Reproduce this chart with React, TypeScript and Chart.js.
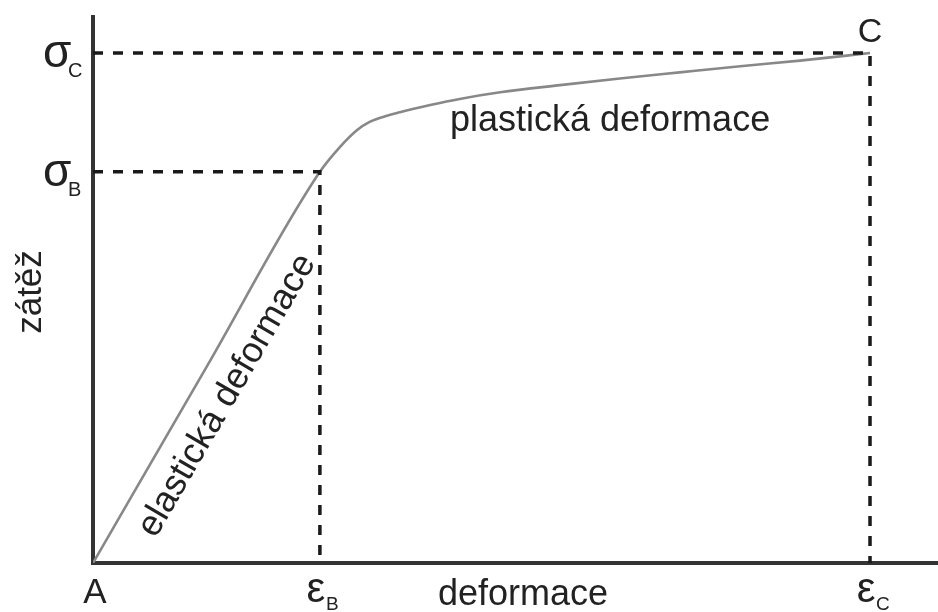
import React, { useEffect, useRef } from "react";
import { Chart, registerables } from "chart.js";

Chart.register(...registerables);

// Stress–strain curve (deformace → zátěž)
const STRAIN = [0, 1.46, 2.92, 3.18, 3.40, 3.56, 3.76, 3.95, 4.34, 4.72, 5.24, 6.01, 6.78, 7.55, 8.33, 9.10, 10];
const LOAD = [0, 3.84, 7.67, 8.16, 8.49, 8.65, 8.76, 8.84, 8.98, 9.10, 9.23, 9.37, 9.50, 9.62, 9.74, 9.85, 10];

// Characteristic points
const EPS_B = 2.92;
const EPS_C = 10;
const SIG_B = 7.67;
const SIG_C = 10;

// Tick labels
const X_TICKS = [0, EPS_B, EPS_C];
const X_TICK_MAIN = ["A", "ε", "ε"];
const X_TICK_SUB = ["", "B", "C"];
const Y_TICKS = [SIG_B, SIG_C];
const Y_TICK_MAIN = ["σ", "σ"];
const Y_TICK_SUB = ["B", "C"];

const X_TITLE = "deformace";
const Y_TITLE = "zátěž";
const POINT_C_LABEL = "C";
const ELASTIC_LABEL = "elastická deformace";
const PLASTIC_LABEL = "plastická deformace";

const X_MAX = 10.875;
const Y_MAX = 10.706;

const FONT = '"Liberation Sans", Arial, sans-serif';
const TEXT_COLOR = "#222";

const labelsPlugin = {
  id: "labelsPlugin",
  afterDraw(chart: any) {
    const { ctx, chartArea, scales } = chart;
    const xs = scales.x;
    const ys = scales.y;
    ctx.save();
    ctx.fillStyle = TEXT_COLOR;
    ctx.textBaseline = "alphabetic";

    // y tick labels (σ with subscripts)
    Y_TICKS.forEach((v, i) => {
      const py = ys.getPixelForValue(v);
      ctx.font = `46px ${FONT}`;
      ctx.textAlign = "left";
      ctx.fillText(Y_TICK_MAIN[i], chartArea.left - 50, py + 14);
      ctx.font = `20px ${FONT}`;
      ctx.fillText(Y_TICK_SUB[i], chartArea.left - 25, py + 24);
    });

    // x tick labels
    X_TICKS.forEach((v, i) => {
      const px = xs.getPixelForValue(v);
      if (!X_TICK_SUB[i]) {
        ctx.font = `35px ${FONT}`;
        ctx.textAlign = "center";
        ctx.fillText(X_TICK_MAIN[i], px + 2, chartArea.bottom + 40);
      } else {
        ctx.font = `42px ${FONT}`;
        ctx.textAlign = "center";
        ctx.fillText(X_TICK_MAIN[i], px - 4, chartArea.bottom + 39);
        ctx.font = `19px ${FONT}`;
        ctx.textAlign = "left";
        ctx.fillText(X_TICK_SUB[i], px + 6, chartArea.bottom + 47);
      }
    });

    // point C label
    ctx.font = `34px ${FONT}`;
    ctx.textAlign = "center";
    ctx.fillText(POINT_C_LABEL, xs.getPixelForValue(EPS_C), ys.getPixelForValue(SIG_C) - 11);

    // axis titles
    ctx.font = `36px ${FONT}`;
    ctx.textAlign = "left";
    ctx.fillText(X_TITLE, 438, chartArea.bottom + 42);

    ctx.save();
    ctx.font = `35px ${FONT}`;
    ctx.translate(41, 292);
    ctx.rotate(-Math.PI / 2);
    ctx.textAlign = "center";
    ctx.fillText(Y_TITLE, 0, 0);
    ctx.restore();

    // plastic region label
    ctx.font = `36px ${FONT}`;
    ctx.textAlign = "left";
    ctx.fillText(PLASTIC_LABEL, 450, 131);

    // elastic region label along the elastic line
    const ax = xs.getPixelForValue(0);
    const ay = ys.getPixelForValue(0);
    const bx = xs.getPixelForValue(EPS_B);
    const by = ys.getPixelForValue(SIG_B);
    const ang = Math.atan2(by - ay, bx - ax);
    const dx = Math.cos(ang);
    const dy = Math.sin(ang);
    const nx = -dy;
    const ny = dx;
    const sx = ax + 52 * dx + 42 * nx;
    const sy = ay + 52 * dy + 42 * ny;
    ctx.save();
    ctx.translate(sx, sy);
    ctx.rotate(ang);
    ctx.font = `36px ${FONT}`;
    ctx.textAlign = "left";
    ctx.fillText(ELASTIC_LABEL, 0, 0);
    ctx.restore();

    ctx.restore();
  },
};

export default function App() {
  const ref = useRef<HTMLCanvasElement | null>(null);

  useEffect(() => {
    if (!ref.current) return;
    const curve = STRAIN.map((x, i) => ({ x, y: LOAD[i] }));
    const dashC = [
      { x: 0, y: SIG_C },
      { x: EPS_C, y: SIG_C },
      { x: EPS_C, y: 0 },
    ];
    const dashB = [
      { x: 0, y: SIG_B },
      { x: EPS_B, y: SIG_B },
      { x: EPS_B, y: 0 },
    ];
    const dashStyle = {
      borderColor: "#1a1a1a",
      borderWidth: 3.5,
      borderDash: [10, 10],
      pointRadius: 0,
      tension: 0,
      fill: false,
    };
    const chart = new Chart(ref.current, {
      type: "line",
      data: {
        datasets: [
          { data: dashC, ...dashStyle },
          { data: dashB, ...dashStyle },
          {
            data: curve,
            borderColor: "#888",
            borderWidth: 2.6,
            pointRadius: 0,
            cubicInterpolationMode: "monotone",
            fill: false,
          },
        ],
      },
      options: {
        animation: false,
        responsive: false,
        maintainAspectRatio: false,
        layout: { padding: { top: 17, left: 0, right: 0, bottom: 0 } },
        plugins: { legend: { display: false }, tooltip: { enabled: false } },
        scales: {
          x: {
            type: "linear",
            min: 0,
            max: X_MAX,
            ticks: { display: false },
            grid: { display: false },
            border: { display: true, width: 4, color: "#333" },
            afterFit: (s: any) => {
              s.height = 49;
            },
          },
          y: {
            type: "linear",
            min: 0,
            max: Y_MAX,
            ticks: { display: false },
            grid: { display: false },
            border: { display: true, width: 4, color: "#333" },
            afterFit: (s: any) => {
              s.width = 93;
            },
          },
        },
      },
      plugins: [labelsPlugin],
    } as any);
    return () => chart.destroy();
  }, []);

  return (
    <div style={{ position: "fixed", left: 0, top: 0, width: 938, height: 612, background: "#fff" }}>
      <canvas ref={ref} width={938} height={612} />
    </div>
  );
}
